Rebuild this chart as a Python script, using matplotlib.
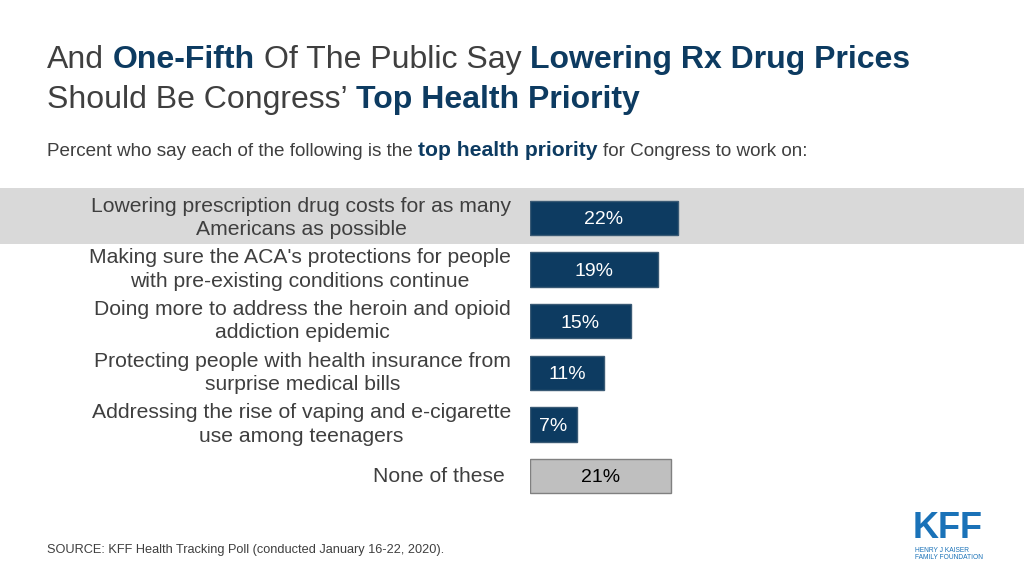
import matplotlib
matplotlib.use("Agg")
import matplotlib.pyplot as plt
from matplotlib.patches import Rectangle

plt.rcParams['font.family'] = ['Liberation Sans', 'DejaVu Sans']

categories = [
    "Lowering prescription drug costs for as many\nAmericans as possible",
    "Making sure the ACA's protections for people\nwith pre-existing conditions continue",
    "Doing more to address the heroin and opioid\naddiction epidemic",
    "Protecting people with health insurance from\nsurprise medical bills",
    "Addressing the rise of vaping and e-cigarette\nuse among teenagers",
    "None of these",
]
values = [22, 19, 15, 11, 7, 21]
value_labels = ["22%", "19%", "15%", "11%", "7%", "21%"]

NAVY = "#0d3b61"
GRAY_TXT = "#3f3f3f"
W, H = 1024, 576

fig = plt.figure(figsize=(W / 100, H / 100), dpi=100)
fig.patch.set_facecolor("white")

# highlight band behind first row
band = Rectangle((0, 1 - 244 / H), 1, (244 - 188) / H,
                 transform=fig.transFigure, facecolor="#d9d9d9",
                 edgecolor="none", zorder=-5)
fig.patches.append(band)

# bar axes
px_per_unit = 6.73
left_px = 530
right_px = 1000
ax = fig.add_axes([left_px / W, 1 - 501.8 / H, (right_px - left_px) / W, (501.8 - 192.2) / H])
ax.set_zorder(2)
ax.set_xlim(0, (right_px - left_px) / px_per_unit)
ax.set_ylim(5.5, -0.5)
ax.axis("off")
ax.patch.set_alpha(0)

ypos = list(range(len(values)))
colors = [NAVY] * 5 + ["#bfbfbf"]
edges = ["#3a5a75"] * 5 + ["#808080"]
ax.barh(ypos, values, height=0.67, color=colors, edgecolor=edges, linewidth=1.0)
for i, (v, lab) in enumerate(zip(values, value_labels)):
    ax.text(v / 2, i, lab, ha="center", va="center_baseline", fontsize=14,
            color="white" if i < 5 else "black")

# category labels
for i, cat in enumerate(categories):
    ycen = 1 - (218 + i * 51.6) / H
    xr = 511 if i < 5 else 505
    fig.text(xr / W, ycen, cat, ha="right", va="center", ma="center",
             fontsize=15.2, color=GRAY_TXT, linespacing=1.3, zorder=3)

renderer = fig.canvas.get_renderer()


def rich_line(x_px, y_px, parts, size_map):
    x = x_px
    for txt, bold in parts:
        size = size_map[bold]
        t = fig.text(x / W, 1 - y_px / H, txt, ha="left", va="baseline",
                     fontsize=size, fontweight="bold" if bold else "normal",
                     color=NAVY if bold else GRAY_TXT)
        bb = t.get_window_extent(renderer)
        s1 = fig.text(0, 0, "x x", fontsize=size, fontweight="bold" if bold else "normal")
        s2 = fig.text(0, 0, "xx", fontsize=size, fontweight="bold" if bold else "normal")
        sp = s1.get_window_extent(renderer).width - s2.get_window_extent(renderer).width
        s1.remove(); s2.remove()
        x = bb.x1 + sp


title_sizes = {False: 23, True: 23}
rich_line(47, 68, [("And", False), ("One-Fifth", True), ("Of The Public Say", False),
                   ("Lowering Rx Drug Prices", True)], title_sizes)
rich_line(47, 108, [("Should Be Congress\u2019", False), ("Top Health Priority", True)], title_sizes)

rich_line(47, 156, [("Percent who say each of the following is the", False),
                    ("top health priority", True),
                    ("for Congress to work on:", False)], {False: 13.6, True: 15.2})

fig.text(47 / W, 1 - 550 / H, "SOURCE: KFF Health Tracking Poll (conducted January 16-22, 2020).",
         ha="left", va="center", fontsize=9.2, color=GRAY_TXT)

# KFF logo
LOGO = "#1a72b8"
fig.text(913 / W, 1 - 538 / H, "KFF", ha="left", va="baseline", fontsize=26,
         fontweight="bold", color=LOGO)
fig.text(915 / W, 1 - 547.5 / H, "HENRY J KAISER", ha="left", va="top", fontsize=4.8, color=LOGO)
fig.text(915 / W, 1 - 554 / H, "FAMILY FOUNDATION", ha="left", va="top", fontsize=4.8, color=LOGO)

fig.savefig("out.png", dpi=100)
